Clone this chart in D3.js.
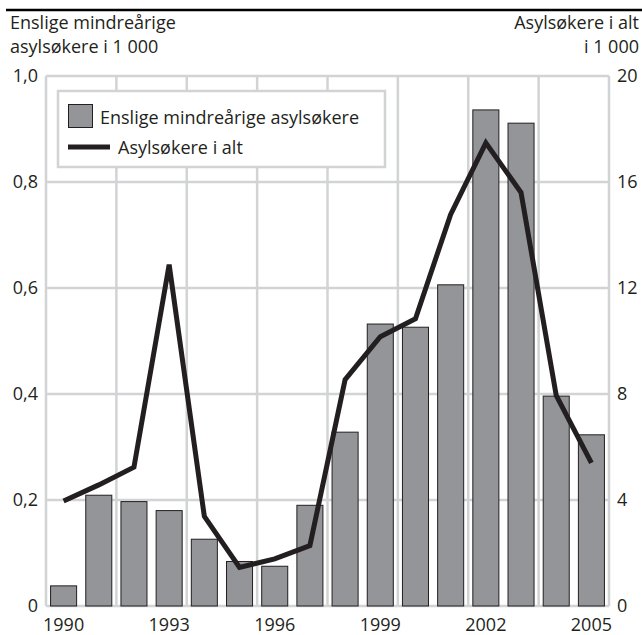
<!DOCTYPE html>
<html><head><meta charset="utf-8">
<script src="https://cdn.jsdelivr.net/npm/d3@7"></script>
<style>body{margin:0;background:#fff}svg{display:block}text{font-family:"Open Sans",sans-serif;fill:#231f20}</style>
</head><body><svg id="c" width="642" height="635"></svg>
<script>
const years = [1990,1991,1992,1993,1994,1995,1996,1997,1998,1999,2000,2001,2002,2003,2004,2005];
const minors = [0.038,0.209,0.197,0.180,0.126,0.084,0.075,0.190,0.328,0.532,0.526,0.606,0.936,0.911,0.396,0.323];
const total = [3.96,4.57,5.24,12.88,3.38,1.46,1.78,2.28,8.54,10.16,10.84,14.78,17.48,15.60,7.95,5.40];
const leftTicks = [0,0.2,0.4,0.6,0.8,1.0];
const rightTicks = [0,4,8,12,16,20];
const xLabels = [1990,1993,1996,1999,2002,2005];
const legendLabels = ["Enslige mindreårige asylsøkere","Asylsøkere i alt"];

const svg = d3.select("#c");
const L=46,R=609,T=76,B=606;
const x = d3.scaleBand().domain(years).range([L,R]).paddingInner(0.26).paddingOuter(0.13);
const yL = d3.scaleLinear().domain([0,1]).range([B,T]);
const yR = d3.scaleLinear().domain([0,20]).range([B,T]);
const grid="#d1d3d4";
const fmt = d => d===0 ? "0" : d3.format(".1f")(d).replace(".",",");

svg.append("line").attr("x1",6).attr("x2",642).attr("y1",10).attr("y2",10).attr("stroke","#000").attr("stroke-width",2.5);
svg.append("text").attr("x",10).attr("y",29).attr("font-size",18).text("Enslige mindreårige");
svg.append("text").attr("x",10).attr("y",53).attr("font-size",18).text("asylsøkere i 1 000");
svg.append("text").attr("x",639).attr("y",29).attr("font-size",18).attr("text-anchor","end").text("Asylsøkere i alt");
svg.append("text").attr("x",639).attr("y",53).attr("font-size",18).attr("text-anchor","end").text("i 1 000");

svg.append("g").selectAll("line").data(leftTicks).join("line")
  .attr("x1",L).attr("x2",R).attr("y1",d=>yL(d)).attr("y2",d=>yL(d))
  .attr("stroke",grid).attr("stroke-width",2.5);
svg.append("g").selectAll("line").data(d3.range(0,17,2)).join("line")
  .attr("x1",i=>L+(R-L)*i/16).attr("x2",i=>L+(R-L)*i/16).attr("y1",T).attr("y2",B)
  .attr("stroke",grid).attr("stroke-width",2.5);

svg.append("g").selectAll("rect").data(years).join("rect")
  .attr("x",d=>x(d)).attr("width",x.bandwidth())
  .attr("y",(d,i)=>yL(minors[i])).attr("height",(d,i)=>B-yL(minors[i]))
  .attr("fill","#939598").attr("stroke","#231f20").attr("stroke-width",1);

const line = d3.line().x((d,i)=>x(years[i])+x.bandwidth()/2).y(d=>yR(d));
svg.append("path").datum(total).attr("d",line).attr("fill","none")
  .attr("stroke","#231f20").attr("stroke-width",5).attr("stroke-linejoin","miter");

const axL = d3.axisLeft(yL).tickValues(leftTicks).tickFormat(fmt).tickSize(0).tickPadding(8);
const gL = svg.append("g").attr("transform",`translate(${L},0)`).call(axL);
const axR = d3.axisRight(yR).tickValues(rightTicks).tickSize(0).tickPadding(8);
const gR = svg.append("g").attr("transform",`translate(${R},0)`).call(axR);
const axB = d3.axisBottom(x).tickValues(xLabels).tickSize(0).tickPadding(8);
const gB = svg.append("g").attr("transform",`translate(0,${B})`).call(axB);
[gL,gR,gB].forEach(g=>{g.select(".domain").remove();g.selectAll("text").attr("font-size",18).attr("fill","#231f20").style("font-family","'Open Sans',sans-serif");});
gB.selectAll("text").attr("dy","0.95em");

const lg = svg.append("g");
lg.append("rect").attr("x",58).attr("y",91).attr("width",327).attr("height",76).attr("fill","#fff").attr("stroke",grid).attr("stroke-width",2.5);
lg.append("rect").attr("x",68.5).attr("y",104.5).attr("width",24).attr("height",23).attr("fill","#939598").attr("stroke","#231f20").attr("stroke-width",1);
lg.append("text").attr("x",100).attr("y",124).attr("font-size",18).text(legendLabels[0]);
lg.append("line").attr("x1",68).attr("x2",110).attr("y1",147).attr("y2",147).attr("stroke","#231f20").attr("stroke-width",5);
lg.append("text").attr("x",118).attr("y",154).attr("font-size",18).text(legendLabels[1]);
</script></body></html>
